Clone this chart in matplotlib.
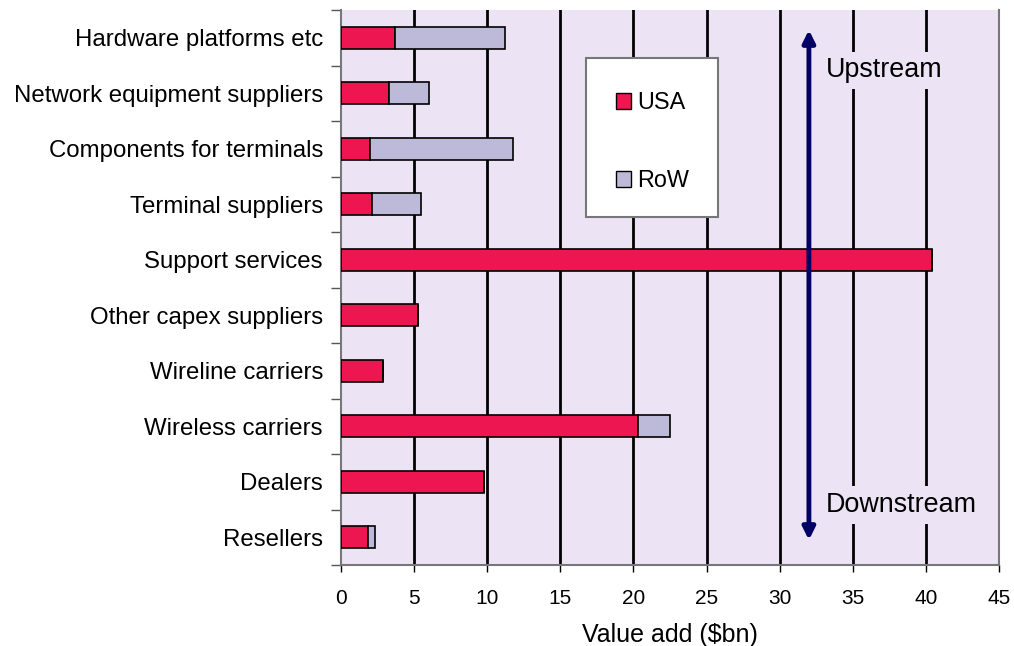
import matplotlib
matplotlib.use("Agg")
import matplotlib.pyplot as plt
from matplotlib.patches import Rectangle, Patch

plt.rcParams['font.family'] = ['Liberation Sans', 'DejaVu Sans']

categories = [
    "Hardware platforms etc",
    "Network equipment suppliers",
    "Components for terminals",
    "Terminal suppliers",
    "Support services",
    "Other capex suppliers",
    "Wireline carriers",
    "Wireless carriers",
    "Dealers",
    "Resellers",
]
usa = [3.7, 3.25, 2.0, 2.1, 40.45, 5.3, 2.9, 20.3, 9.8, 1.85]
row = [7.5, 2.75, 9.75, 3.4, 0.0, 0.0, 0.0, 2.2, 0.0, 0.45]
xticks = [0, 5, 10, 15, 20, 25, 30, 35, 40, 45]

USA_COLOR = "#EE1651"
ROW_COLOR = "#BCBAD8"
BG_COLOR = "#ECE4F4"
ARROW_COLOR = "#000066"

fig = plt.figure(figsize=(10.14, 6.46), dpi=100)
ax = fig.add_axes([341 / 1014, 1 - 565 / 646, (999 - 341) / 1014, (565 - 10) / 646])
ax.set_facecolor(BG_COLOR)

ypos = list(range(len(categories)))
ax.barh(ypos, usa, height=0.4, color=USA_COLOR, edgecolor="black", linewidth=1.2, zorder=3)
ax.barh(ypos, row, left=usa, height=0.4, color=ROW_COLOR, edgecolor="black", linewidth=1.2, zorder=3)

ax.set_ylim(len(categories) - 0.5, -0.5)
ax.set_xlim(0, 45)

# vertical gridlines
for x in xticks[1:-1]:
    ax.axvline(x, color="black", linewidth=2, zorder=1)

ax.set_yticks(ypos)
ax.set_yticklabels(categories, fontsize=17.3)
ax.tick_params(axis="y", length=0, pad=13)
ax.set_yticks([i + 0.5 for i in range(-1, len(categories))], minor=True)
ax.tick_params(axis="y", which="minor", length=7, color="#555555", width=1)

ax.set_xticks(xticks)
ax.set_xticklabels([str(v) for v in xticks], fontsize=15)
ax.tick_params(axis="x", length=5, color="black", width=1, pad=12)
ax.set_xlabel("Value add ($bn)", fontsize=18, labelpad=11)

for side in ["left", "bottom", "right"]:
    ax.spines[side].set_color("#777777")
    ax.spines[side].set_linewidth(1.5)
ax.spines["top"].set_visible(False)

# legend box
legend_box = Rectangle((16.76, 0.365), 9.03, 2.865, facecolor="white", edgecolor="#777777",
                       linewidth=1.5, zorder=4)
ax.add_patch(legend_box)
handles = [Patch(facecolor=USA_COLOR, edgecolor="black", linewidth=1),
           Patch(facecolor=ROW_COLOR, edgecolor="black", linewidth=1)]
leg = ax.legend(handles, ["USA", "RoW"], loc="center",
                bbox_to_anchor=(21.3, 1.875), bbox_transform=ax.transData,
                frameon=False, fontsize=16.8, handlelength=0.65, handleheight=0.65,
                handletextpad=0.25, labelspacing=2.35)
leg.set_zorder(5)

# upstream/downstream arrow
ax.annotate("", xy=(32, -0.14), xytext=(32, 9.05),
            arrowprops=dict(arrowstyle="<|-|>", color=ARROW_COLOR, lw=3.5,
                            mutation_scale=18, shrinkA=0, shrinkB=0), zorder=6)
ax.text(33.15, 0.59, "Upstream", fontsize=19.4, va="center", ha="left", zorder=5,
        bbox=dict(facecolor=BG_COLOR, edgecolor="none", pad=4))
ax.text(33.15, 8.42, "Downstream", fontsize=19.4, va="center", ha="left", zorder=5,
        bbox=dict(facecolor=BG_COLOR, edgecolor="none", pad=4))

fig.savefig("out.png", dpi=100)
